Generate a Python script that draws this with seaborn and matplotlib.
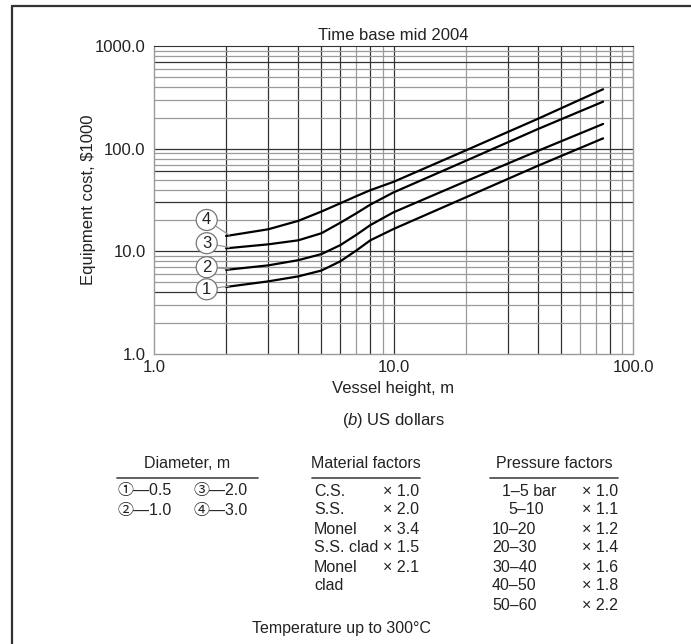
import pandas as pd
import numpy as np
import matplotlib
matplotlib.use('Agg')
import matplotlib.pyplot as plt
import seaborn as sns
from matplotlib.lines import Line2D
from matplotlib.ticker import FixedLocator, FixedFormatter, NullFormatter

# Curve data (vessel height m -> cost $1000)
heights = [2, 3, 4, 5, 6, 7, 8, 10, 20, 40, 75]
cost_d05 = [4.5, 5.1, 5.7, 6.5, 8.0, 10.2, 12.8, 16.5, 33.5, 68, 126]
cost_d10 = [6.6, 7.3, 8.2, 9.4, 11.5, 14.5, 18.0, 24.0, 48, 95, 174]
cost_d20 = [10.7, 11.7, 12.8, 15.0, 19.0, 23.5, 28.5, 37.5, 76, 155, 287]
cost_d30 = [14.1, 16.4, 19.8, 24.4, 29.4, 34.5, 39.4, 47.5, 96, 195, 379]
curve_ids = ['1', '2', '3', '4']
label_pos = [4.27, 7.0, 12.0, 20.2]   # y of the circled numbers

x_ticks = [1, 10, 100]
x_ticklabels = ['1.0', '10.0', '100.0']
y_ticks = [1, 10, 100, 1000]
y_ticklabels = ['1.0', '10.0', '100.0', '1000.0']

diam_rows = [('\u2460\u20140.5', '\u2462\u20142.0'), ('\u2461\u20141.0', '\u2463\u20143.0')]
materials = ['C.S.', 'S.S.', 'Monel', 'S.S. clad', 'Monel', 'clad']
material_factors = ['\u00d7 1.0', '\u00d7 2.0', '\u00d7 3.4', '\u00d7 1.5', '\u00d7 2.1', '']
pressures = ['1\u20135 bar', '5\u201310', '10\u201320', '20\u201330', '30\u201340', '40\u201350', '50\u201360']
pressure_factors = ['\u00d7 1.0', '\u00d7 1.1', '\u00d7 1.2', '\u00d7 1.4', '\u00d7 1.6', '\u00d7 1.8', '\u00d7 2.2']

df = pd.concat([
    pd.DataFrame({'height': heights, 'cost': c, 'curve': cid})
    for c, cid in zip([cost_d05, cost_d10, cost_d20, cost_d30], curve_ids)
])

sns.set_style('white')
plt.rcParams['font.family'] = ['Liberation Sans', 'DejaVu Sans']
plt.rcParams['mathtext.fontset'] = 'custom'
plt.rcParams['mathtext.rm'] = 'Liberation Sans'
plt.rcParams['mathtext.it'] = 'Liberation Sans:italic'
txt = '#222222'

W, H = 691, 644
fig = plt.figure(figsize=(W / 100, H / 100), dpi=100)
ax = fig.add_axes([154 / W, 1 - 354 / H, 479 / W, 308 / H])

# grid (log decades with 2..9 subdivisions, some lines heavier as in print)
dark_x = [2, 3, 4, 5, 6, 8, 10, 30, 40, 50, 80]
dark_y = [700, 100, 60, 30, 10, 4]
for dec in [1, 10]:
    for m in range(2, 10):
        v = dec * m
        ax.axvline(v, color='#333333' if v in dark_x else '#9a9a9a', lw=0.9, zorder=0)
ax.axvline(10, color='#333333', lw=0.9, zorder=0)
for dec in [1, 10, 100]:
    for m in range(1, 10):
        v = dec * m
        if v == 1:
            continue
        ax.axhline(v, color='#333333' if v in dark_y else '#9a9a9a', lw=0.9, zorder=0)

sns.lineplot(data=df, x='height', y='cost', hue='curve', palette=['black'] * 4,
             legend=False, lw=1.6, ax=ax, zorder=3)
ax.set(xscale='log', yscale='log', xlim=(1, 100), ylim=(1, 1000))

ax.xaxis.set_major_locator(FixedLocator(x_ticks))
ax.xaxis.set_major_formatter(FixedFormatter(x_ticklabels))
ax.yaxis.set_major_locator(FixedLocator(y_ticks))
ax.yaxis.set_major_formatter(FixedFormatter(y_ticklabels))
ax.xaxis.set_minor_formatter(NullFormatter())
ax.yaxis.set_minor_formatter(NullFormatter())
ax.tick_params(which='both', length=0, labelsize=12, labelcolor=txt)
ax.tick_params(axis='y', pad=6)
ax.tick_params(axis='x', pad=4)
for s in ['left', 'bottom', 'right']:
    ax.spines[s].set_color('#9a9a9a')
    ax.spines[s].set_linewidth(1.0)
ax.spines['top'].set_color('#333333')

ax.set_xlabel('Vessel height, m', fontsize=12, color=txt, labelpad=5)
ax.set_ylabel('Equipment cost, $1000', fontsize=12, color=txt, labelpad=-1)
ax.set_title('Time base mid 2004', fontsize=12, color=txt, pad=4)

# circled curve numbers with leader lines
for cid, ly, c in zip(curve_ids, label_pos, [cost_d05, cost_d10, cost_d20, cost_d30]):
    ax.annotate(cid, xy=(heights[0] * 1.03, c[0] * 1.02), xytext=(1.66, ly),
                ha='center', va='center', fontsize=12, color=txt,
                bbox=dict(boxstyle='circle,pad=0.18', fc='white', ec='#777777', lw=0.9),
                arrowprops=dict(arrowstyle='-', color='#999999', lw=0.9,
                                shrinkA=0, shrinkB=0), zorder=4)

fig.text(393 / W, 1 - 420 / H, '($b$) US dollars', ha='center', va='center',
         fontsize=12, color=txt)

# border of the page figure
fig.add_artist(Line2D([12 / W, 12 / W], [0, 1 - 6 / H], color='#333333', lw=1.6))
fig.add_artist(Line2D([12 / W, 1], [1 - 6 / H, 1 - 6 / H], color='#333333', lw=1.6))

# factor tables
fs = 11.5
circ_font = ['Liberation Sans', 'Noto Sans CJK SC', 'DejaVu Sans']
def fy(py):
    return 1 - py / H

fig.text(187 / W, fy(464), 'Diameter, m', ha='center', va='center', fontsize=fs, color=txt)
fig.add_artist(Line2D([117 / W, 258 / W], [fy(478)] * 2, color='#444444', lw=1.2))
for i, (a, b) in enumerate(diam_rows):
    y = fy(491 + i * 19)
    fig.text(117 / W, y, a, ha='left', va='center', fontsize=fs, color=txt, family=circ_font)
    fig.text(194 / W, y, b, ha='left', va='center', fontsize=fs, color=txt, family=circ_font)

fig.text(366 / W, fy(464), 'Material factors', ha='center', va='center', fontsize=fs, color=txt)
fig.add_artist(Line2D([312 / W, 420 / W], [fy(478)] * 2, color='#444444', lw=1.2))
for i, (m, f) in enumerate(zip(materials, material_factors)):
    y = fy(491 + i * 19)
    fig.text(314 / W, y, m, ha='left', va='center', fontsize=fs, color=txt)
    fig.text(419 / W, y, f, ha='right', va='center', fontsize=fs, color=txt)

fig.text(554 / W, fy(464), 'Pressure factors', ha='center', va='center', fontsize=fs, color=txt)
fig.add_artist(Line2D([490 / W, 618 / W], [fy(478)] * 2, color='#444444', lw=1.2))
p_left = [502, 508, 492, 492, 492, 492, 492]
for i, (p, f) in enumerate(zip(pressures, pressure_factors)):
    y = fy(491 + i * 19)
    fig.text(p_left[i] / W, y, p, ha='left', va='center', fontsize=fs, color=txt)
    fig.text(618 / W, y, f, ha='right', va='center', fontsize=fs, color=txt)

fig.text(341 / W, fy(629), 'Temperature up to 300\u00b0C', ha='center', va='center',
         fontsize=fs, color=txt)

fig.savefig('out.png', dpi=100, facecolor='white')
